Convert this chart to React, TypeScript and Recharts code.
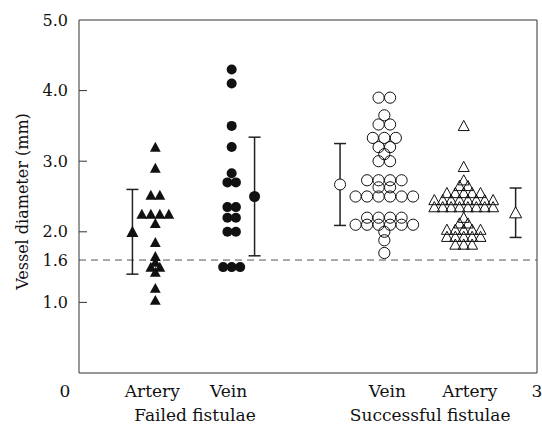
import React from "react";
import { ScatterChart, Scatter, XAxis, YAxis, ReferenceLine, ErrorBar } from "recharts";

// individual vessel diameters (mm)
const failedArtery = [3.2, 2.9, 2.52, 2.52, 2.25, 2.25, 2.25, 2.25, 2.12, 1.85, 1.65, 1.57, 1.5, 1.5, 1.43, 1.2, 1.03];
const failedVein = [4.3, 4.1, 3.5, 3.2, 2.83, 2.7, 2.7, 2.35, 2.35, 2.2, 2.2, 2.0, 2.0, 1.5, 1.5, 1.5];
const successVein = [
  3.9, 3.9, 3.65, 3.52, 3.52, 3.33, 3.33, 3.33, 3.2, 3.2, 3.1, 3.0, 3.0,
  2.73, 2.73, 2.73, 2.73, 2.63, 2.63, 2.5, 2.5, 2.5, 2.5, 2.5, 2.5,
  2.2, 2.2, 2.2, 2.2, 2.1, 2.1, 2.1, 2.1, 2.1, 2.1, 2.0, 1.88, 1.7,
];
const successArtery = [
  3.5, 2.92, 2.73, 2.65, 2.65,
  2.55, 2.55, 2.55, 2.55, 2.55,
  2.45, 2.45, 2.45, 2.45, 2.45, 2.45, 2.45, 2.45,
  2.35, 2.35, 2.35, 2.35, 2.35, 2.35, 2.35, 2.35,
  2.2, 2.12, 2.12, 2.03, 2.03, 2.03, 2.03, 2.03,
  1.93, 1.93, 1.93, 1.93, 1.93, 1.82, 1.82, 1.82,
];

// mean and +/- 1 SD for each group
const groupX = [0.5, 1.0, 2.0, 2.52];
const summaryX = [0.35, 1.15, 1.71, 2.86];
const means = [2.0, 2.5, 2.67, 2.27];
const sdLow = [1.4, 1.66, 2.09, 1.92];
const sdHigh = [2.6, 3.34, 3.25, 2.62];

const xTicks = [0, 0.48, 0.98, 2.02, 2.56, 3];
const xTickLabels = ["0", "Artery", "Vein", "Vein", "Artery", "3"];
const groupLabelX = [0.76, 2.3];
const groupLabels = ["Failed fistulae", "Successful fistulae"];
const yTicks = [1.0, 1.6, 2.0, 3.0, 4.0, 5.0];

const FONT = "'DejaVu Serif', serif";
const INK = "#111";
const PX_PER_UNIT = 458 / 3;

// spread equal values side by side like a dot plot
function swarm(values: number[], center: number, stepPx: number) {
  const counts = new Map<number, number>();
  values.forEach((v) => counts.set(v, (counts.get(v) || 0) + 1));
  const seen = new Map<number, number>();
  return values.map((v) => {
    const n = counts.get(v)!;
    const i = seen.get(v) || 0;
    seen.set(v, i + 1);
    return { x: center + ((i - (n - 1) / 2) * stepPx) / PX_PER_UNIT, y: v };
  });
}

const summary = (i: number) => [
  { x: summaryX[i], y: means[i], err: [means[i] - sdLow[i], sdHigh[i] - means[i]] },
];

const triPath = (cx: number, cy: number, r: number) =>
  `M${cx},${cy - r} L${cx + r},${cy + r * 0.85} L${cx - r},${cy + r * 0.85} Z`;

const FilledTri = (p: any) => <path d={triPath(p.cx, p.cy, 5.4)} fill={INK} />;
const OpenTri = (p: any) => <path d={triPath(p.cx, p.cy, 5.5)} fill="none" stroke={INK} strokeWidth={1} />;
const SumOpenTri = (p: any) => <path d={triPath(p.cx, p.cy, 6)} fill="#fff" stroke={INK} strokeWidth={1} />;
const SumFilledTri = (p: any) => <path d={triPath(p.cx, p.cy, 6)} fill={INK} />;
const FilledDot = (p: any) => <circle cx={p.cx} cy={p.cy} r={5} fill={INK} />;
const OpenDot = (p: any) => <circle cx={p.cx} cy={p.cy} r={5.6} fill="none" stroke={INK} strokeWidth={1} />;
const SumFilledDot = (p: any) => <circle cx={p.cx} cy={p.cy} r={5.5} fill={INK} />;
const SumOpenDot = (p: any) => <circle cx={p.cx} cy={p.cy} r={5.5} fill="#fff" stroke={INK} strokeWidth={1} />;

const YTick = ({ x, y, payload }: any) => {
  const v = payload.value;
  return (
    <g>
      {v !== 1.6 && v !== 5 && <line x1={x} x2={x + 8} y1={y} y2={y} stroke="#333" />}
      <text x={x - 11} y={y} textAnchor="end" dominantBaseline="central" fontSize={16} fontFamily={FONT} fill={INK}>
        {v.toFixed(1)}
      </text>
    </g>
  );
};

// category labels on the first line, group labels on the second
const XTick = ({ x, y, payload }: any) => {
  const g = groupLabelX.indexOf(payload.value);
  if (g >= 0) {
    return (
      <text x={x} y={y + 42} textAnchor="middle" dominantBaseline="central" fontSize={17} fontFamily={FONT} fill={INK}>
        {groupLabels[g]}
      </text>
    );
  }
  const i = xTicks.indexOf(payload.value);
  return (
    <text x={i === 0 ? x - 14 : x} y={y + 18} textAnchor="middle" dominantBaseline="central" fontSize={17} fontFamily={FONT} fill={INK}>
      {xTickLabels[i]}
    </text>
  );
};

const YLabel = ({ viewBox }: any) => {
  const cy = viewBox.y + viewBox.height / 2 + 5;
  return (
    <text x={22} y={cy} transform={`rotate(-90, 22, ${cy})`} textAnchor="middle" dominantBaseline="central" fontSize={16} fontFamily={FONT} fill={INK}>
      Vessel diameter (mm)
    </text>
  );
};

export default function App() {
  return (
    <div style={{ position: "absolute", left: 0, top: 0, width: 542, height: 427, background: "#fff" }}>
      <ScatterChart width={542} height={427} margin={{ top: 20, right: 5, bottom: 0, left: 0 }}>
        <XAxis
          type="number"
          dataKey="x"
          domain={[0, 3]}
          allowDataOverflow
          ticks={[...xTicks, ...groupLabelX]}
          interval={0}
          tick={<XTick />}
          tickLine={false}
          tickSize={0}
          tickMargin={0}
          height={54}
          stroke="#333"
        />
        <YAxis
          type="number"
          dataKey="y"
          domain={[0, 5]}
          allowDataOverflow
          ticks={yTicks}
          interval={0}
          tick={<YTick />}
          tickLine={false}
          tickSize={0}
          tickMargin={0}
          width={79}
          stroke="#333"
          label={<YLabel />}
        />
        <ReferenceLine y={5} stroke="#333" />
        <ReferenceLine x={3} stroke="#333" />
        <ReferenceLine y={1.6} stroke="#555" strokeDasharray="7 5" />

        <Scatter data={swarm(failedArtery, groupX[0], 9)} shape={<FilledTri />} isAnimationActive={false} />
        <Scatter data={swarm(failedVein, groupX[1], 8.5)} shape={<FilledDot />} isAnimationActive={false} />
        <Scatter data={swarm(successVein, groupX[2], 11.5)} shape={<OpenDot />} isAnimationActive={false} />
        <Scatter data={swarm(successArtery, groupX[3], 8.4)} shape={<OpenTri />} isAnimationActive={false} />

        <Scatter data={summary(0)} shape={<SumFilledTri />} isAnimationActive={false}>
          <ErrorBar dataKey="err" direction="y" width={6} stroke="#222" />
        </Scatter>
        <Scatter data={summary(1)} shape={<SumFilledDot />} isAnimationActive={false}>
          <ErrorBar dataKey="err" direction="y" width={6} stroke="#222" />
        </Scatter>
        <Scatter data={summary(2)} shape={<SumOpenDot />} isAnimationActive={false}>
          <ErrorBar dataKey="err" direction="y" width={6} stroke="#222" />
        </Scatter>
        <Scatter data={summary(3)} shape={<SumOpenTri />} isAnimationActive={false}>
          <ErrorBar dataKey="err" direction="y" width={6} stroke="#222" />
        </Scatter>
      </ScatterChart>
    </div>
  );
}
